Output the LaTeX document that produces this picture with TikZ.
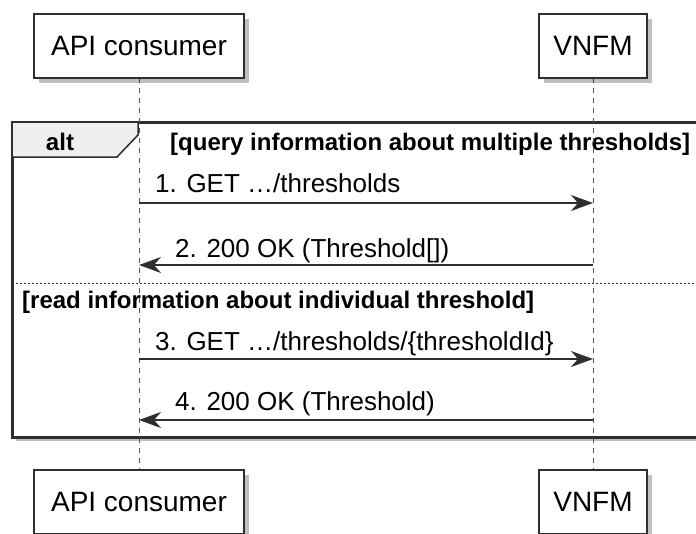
\documentclass[tikz,border=0pt]{standalone}
\usepackage{fontspec}
\setmainfont{Liberation Sans}
\usetikzlibrary{arrows.meta,shadows}
\definecolor{ln}{HTML}{2E2E2E}
\definecolor{tabfill}{HTML}{EEEEEE}
\definecolor{life}{HTML}{555555}
\tikzset{
 part/.style={draw=ln, line width=1.5pt, fill=white, inner sep=0pt, minimum height=64pt,
   font=\fontsize{28}{34}\selectfont,
   drop shadow={shadow xshift=5pt, shadow yshift=-5pt, fill=black, opacity=0.25}},
 msg/.style={draw=ln, line width=1.5pt, -{Stealth[length=22pt,width=16pt,inset=7pt]}},
 msgtext/.style={anchor=base west, inner sep=0pt, font=\fontsize{26}{30}\selectfont},
 cond/.style={anchor=base west, inner sep=0pt, font=\bfseries\fontsize{24}{28}\selectfont},
 lifeline/.style={draw=life, line width=1pt, dash pattern=on 5pt off 5pt},
 framebox/.style={draw=ln, line width=3pt, fill=white,
   drop shadow={shadow xshift=4pt, shadow yshift=-4pt, fill=black, opacity=0.25}},
 tabbox/.style={draw=ln, line width=1.5pt, fill=tabfill},
 sep/.style={draw=ln, line width=1pt, dash pattern=on 2pt off 2pt},
}
\begin{document}
\begin{tikzpicture}[x=1pt,y=-1pt]
\useasboundingbox (0,0) rectangle (696,533);
\clip (0,0) rectangle (696,533);
% frame
\draw[framebox] (12,122) rectangle (730,437);
\draw[tabbox] (12,122) -- (138,122) -- (138,135) -- (117,157) -- (12,157) -- cycle;
\node[anchor=base, inner sep=0pt, font=\bfseries\fontsize{24}{28}\selectfont] (alt) at (60,150) {alt};
\node[cond] (c1) at (170,150) {[query information about multiple thresholds]};
\draw[sep] (12,283) -- (730,283);
\node[cond] (c2) at (22,308) {[read information about individual threshold]};
% lifelines
\coordinate (la1) at (139,78); \coordinate (la2) at (139,470);
\coordinate (lv1) at (593,78); \coordinate (lv2) at (593,470);
\draw[lifeline] (la1) -- (la2);
\draw[lifeline] (lv1) -- (lv2);
% participants
\node[part, minimum width=210pt] (a1) at (139,46) {API consumer};
\node[part, minimum width=108pt] (v1) at (593,46) {VNFM};
\node[part, minimum width=210pt] (a2) at (139,502) {API consumer};
\node[part, minimum width=108pt] (v2) at (593,502) {VNFM};
% messages
\coordinate (m1a) at (139,203); \coordinate (m1b) at (593,203);
\coordinate (m2a) at (139,265); \coordinate (m2b) at (593,265);
\coordinate (m3a) at (139,359); \coordinate (m3b) at (593,359);
\coordinate (m4a) at (139,420); \coordinate (m4b) at (593,420);
\draw[msg] (m1a) -- (m1b);
\draw[msg] (m2b) -- (m2a);
\draw[msg] (m3a) -- (m3b);
\draw[msg] (m4b) -- (m4a);
\node[msgtext] (t1) at (155,192) {1. GET …/thresholds};
\node[msgtext] (t2) at (175,257) {2. 200 OK (Threshold[])};
\node[msgtext] (t3) at (155,350) {3. GET …/thresholds/\{thresholdId\}};
\node[msgtext] (t4) at (175,410) {4. 200 OK (Threshold)};
\end{tikzpicture}
\end{document}
